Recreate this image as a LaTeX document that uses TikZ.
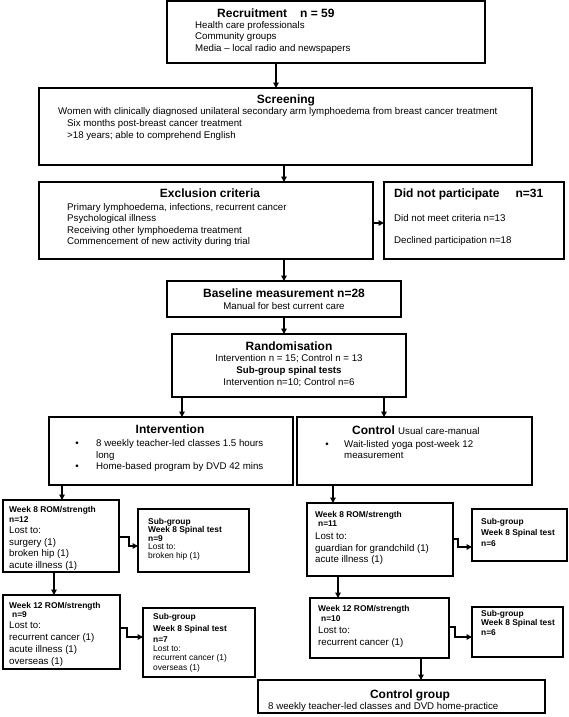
\documentclass[tikz,border=0pt]{standalone}
\usepackage{fontspec}
\setmainfont{Liberation Sans}
\usetikzlibrary{arrows.meta}
\tikzset{
 bx/.style={draw, line width=1.3pt, inner sep=0pt, outer sep=0pt, rectangle},
 arr/.style={line width=1.3pt, -{Triangle[length=5.5pt,width=5.5pt]}},
 tl/.style={anchor=base west, inner sep=0pt, font=\fontsize{9.7}{11}\selectfont},
 tc/.style={anchor=base, inner sep=0pt, font=\fontsize{9.7}{11}\selectfont},
 hb/.style={anchor=base, inner sep=0pt, font=\fontsize{12}{14}\selectfont\bfseries},
 hbl/.style={anchor=base west, inner sep=0pt, font=\fontsize{12}{14}\selectfont\bfseries},
 sb/.style={anchor=base west, inner sep=0pt, font=\fontsize{8.4}{10}\selectfont\bfseries},
 sn/.style={anchor=base west, inner sep=0pt, font=\fontsize{8.4}{10}\selectfont},
}
\newcommand\mkbox[5]{\node[bx, minimum width={(#4-#2)*1pt}, minimum height={(#5-#3)*1pt}] (#1) at ({(#2+#4)/2},{(#3+#5)/2}) {};}
\begin{document}
\begin{tikzpicture}[x=1pt,y=-1pt]
\useasboundingbox (0,0) rectangle (568,717);
% boxes
\mkbox{rec}{167}{1}{485}{63}
\mkbox{scr}{39}{88}{532}{165}
\mkbox{exc}{39}{182}{373}{259}
\mkbox{dnp}{384}{182}{564}{259}
\mkbox{base}{167}{281}{401}{317}
\mkbox{rand}{172}{334}{406}{397}
\mkbox{int}{49}{417}{293}{485}
\mkbox{ctl}{297}{417}{532}{485}
\mkbox{wei}{3}{500}{119}{572}
\mkbox{sgi}{138}{509}{249}{572}
\mkbox{wti}{3}{595}{120}{669}
\mkbox{sti}{143}{608}{255}{677}
\mkbox{wec}{307}{503}{453}{576}
\mkbox{sgc}{472}{509}{567}{561}
\mkbox{wtc}{310}{598}{449}{658}
\mkbox{stc}{472}{607}{563}{657}
\mkbox{cg}{258}{680}{545}{713}
% recruitment
\node[hbl] (rt) at (217,17.5) {Recruitment\hspace{13pt}n = 59};
\node[tl] (r1) at (195,28.5) {Health care professionals};
\node[tl] (r2) at (195,40) {Community groups};
\node[tl] (r3) at (195,51.5) {Media – local radio and newspapers};
% screening
\node[hb] (st) at (286,103.5) {Screening};
\node[tl] (s1) at (58,114.5) {Women with clinically diagnosed unilateral secondary arm lymphoedema from breast cancer treatment};
\node[tl] (s2) at (67,126.5) {Six months post-breast cancer treatment};
\node[tl] (s3) at (67,138.5) {>18 years; able to comprehend English};
% exclusion
\node[hb] (et) at (210,197.5) {Exclusion criteria};
\node[tl] (e1) at (67,210) {Primary lymphoedema, infections, recurrent cancer};
\node[tl] (e2) at (67,221.5) {Psychological illness};
\node[tl] (e3) at (67,233) {Receiving other lymphoedema treatment};
\node[tl] (e4) at (67,244.5) {Commencement of new activity during trial};
% did not participate
\node[hbl] (dt) at (394,197.5) {Did not participate\hspace{16pt}n=31};
\node[tl] (d1) at (394,221) {Did not meet criteria n=13};
\node[tl] (d2) at (394,243) {Declined participation n=18};
% baseline
\node[hb] (bt) at (284,297.5) {Baseline measurement n=28};
\node[tc] (b1) at (284,309) {Manual for best current care};
% randomisation
\node[hb] (ra) at (289,350.5) {Randomisation};
\node[tc] (ra1) at (289,361) {Intervention n = 15; Control n = 13};
\node[tc, font=\fontsize{9.7}{11}\selectfont\bfseries] (ra2) at (289,373.5) {Sub-group spinal tests};
\node[tc] (ra3) at (289,385) {Intervention n=10; Control n=6};
% intervention
\node[hb] (it) at (170,433.5) {Intervention};
\node[tc] (ib1) at (77,446.5) {•};
\node[tl] (i1) at (96,446.5) {8 weekly teacher-led classes 1.5 hours};
\node[tl] (i2) at (96,458) {long};
\node[tc] (ib2) at (77,469.5) {•};
\node[tl] (i3) at (96,469.5) {Home-based program by DVD 42 mins};
% control
\node[hbl] (ct) at (352,434.5) {Control {\fontsize{9.7}{11}\selectfont\mdseries Usual care-manual}};
\node[tc] (cb) at (327,447) {•};
\node[tl] (c1) at (344,447) {Wait-listed yoga post-week 12};
\node[tl] (c2) at (344,458) {measurement};
% week 8 intervention
\node[sb] (w1) at (9,512) {Week 8 ROM/strength};
\node[sb] (w2) at (9,522) {n=12};
\node[tl] (w3) at (9,533.5) {Lost to:};
\node[tl] (w4) at (9,545) {surgery (1)};
\node[tl] (w5) at (9,556.5) {broken hip (1)};
\node[tl] (w6) at (9,568) {acute illness (1)};
% subgroup intervention 1
\node[sb] (g1) at (148,524) {Sub-group};
\node[sb] (g2) at (148,532.5) {Week 8 Spinal test};
\node[sb] (g3) at (148,541) {n=9};
\node[sn] (g4) at (148,549.5) {Lost to:};
\node[sn] (g5) at (148,558) {broken hip (1)};
% week 12 intervention
\node[sb] (v1) at (9,608.5) {Week 12 ROM/strength};
\node[sb] (v2) at (12,617) {n=9};
\node[tl] (v3) at (9,628) {Lost to:};
\node[tl] (v4) at (9,640.5) {recurrent cancer (1)};
\node[tl] (v5) at (9,652.5) {acute illness (1)};
\node[tl] (v6) at (9,664.5) {overseas (1)};
% subgroup intervention 2
\node[sb] (h1) at (153,619.5) {Sub-group};
\node[sb] (h2) at (153,631) {Week 8 Spinal test};
\node[sb] (h3) at (153,642.5) {n=7};
\node[sn] (h4) at (153,651) {Lost to:};
\node[sn] (h5) at (153,660.5) {recurrent cancer (1)};
\node[sn] (h6) at (153,670) {overseas (1)};
% week 8 control
\node[sb] (x1) at (315,517) {Week 8 ROM/strength};
\node[sb] (x2) at (318,526.5) {n=11};
\node[tl] (x3) at (315,539) {Lost to:};
\node[tl] (x4) at (315,551) {guardian for grandchild (1)};
\node[tl] (x5) at (315,562) {acute illness (1)};
% subgroup control 1
\node[sb] (k1) at (481,524.5) {Sub-group};
\node[sb] (k2) at (481,535.5) {Week 8 Spinal test};
\node[sb] (k3) at (481,546.5) {n=6};
% week 12 control
\node[sb] (y1) at (318,611.5) {Week 12 ROM/strength};
\node[sb] (y2) at (321,621.5) {n=10};
\node[tl] (y3) at (318,633) {Lost to:};
\node[tl] (y4) at (318,645) {recurrent cancer (1)};
% subgroup control 2
\node[sb] (m1) at (481,616.5) {Sub-group};
\node[sb] (m2) at (481,625.5) {Week 8 Spinal test};
\node[sb] (m3) at (481,635.5) {n=6};
% control group
\node[hb] (cgt) at (410,698) {Control group};
\node[tl] (cg1) at (268,709.5) {8 weekly teacher-led classes and DVD home-practice};
% connector coordinates
\coordinate (a1) at (276,0);
\coordinate (a2) at (284,0);
\coordinate (a3) at (0,223);
\coordinate (a6) at (182,0);
\coordinate (a7) at (384,0);
\coordinate (a8) at (62,0);
\coordinate (a10) at (54,0);
\coordinate (a12) at (333,0);
\coordinate (a14) at (338,0);
\coordinate (a16) at (421,0);
\coordinate (j1a) at (129,537); \coordinate (j1b) at (129,546);
\coordinate (j2a) at (127,628); \coordinate (j2b) at (127,637);
\coordinate (j3a) at (458,539); \coordinate (j3b) at (458,547);
\coordinate (j4a) at (455,627); \coordinate (j4b) at (455,637);
% connectors
\draw[arr] (rec.south -| a1) -- (scr.north -| a1);
\draw[arr] (scr.south -| a2) -- (exc.north -| a2);
\draw[arr] (exc.east |- a3) -- (dnp.west |- a3);
\draw[arr] (exc.south -| a2) -- (base.north -| a2);
\draw[arr] (base.south -| a2) -- (rand.north -| a2);
\draw[arr] (rand.south -| a6) -- (int.north -| a6);
\draw[arr] (rand.south -| a7) -- (ctl.north -| a7);
\draw[arr] (int.south -| a8) -- (wei.north -| a8);
\draw[arr] (wei.east |- j1a) -- (j1a) -- (j1b) -- (sgi.west |- j1b);
\draw[arr] (wei.south -| a10) -- (wti.north -| a10);
\draw[arr] (wti.east |- j2a) -- (j2a) -- (j2b) -- (sti.west |- j2b);
\draw[arr] (ctl.south -| a12) -- (wec.north -| a12);
\draw[arr] (wec.east |- j3a) -- (j3a) -- (j3b) -- (sgc.west |- j3b);
\draw[arr] (wec.south -| a14) -- (wtc.north -| a14);
\draw[arr] (wtc.east |- j4a) -- (j4a) -- (j4b) -- (stc.west |- j4b);
\draw[arr] (wtc.south -| a16) -- (cg.north -| a16);
\end{tikzpicture}
\end{document}
